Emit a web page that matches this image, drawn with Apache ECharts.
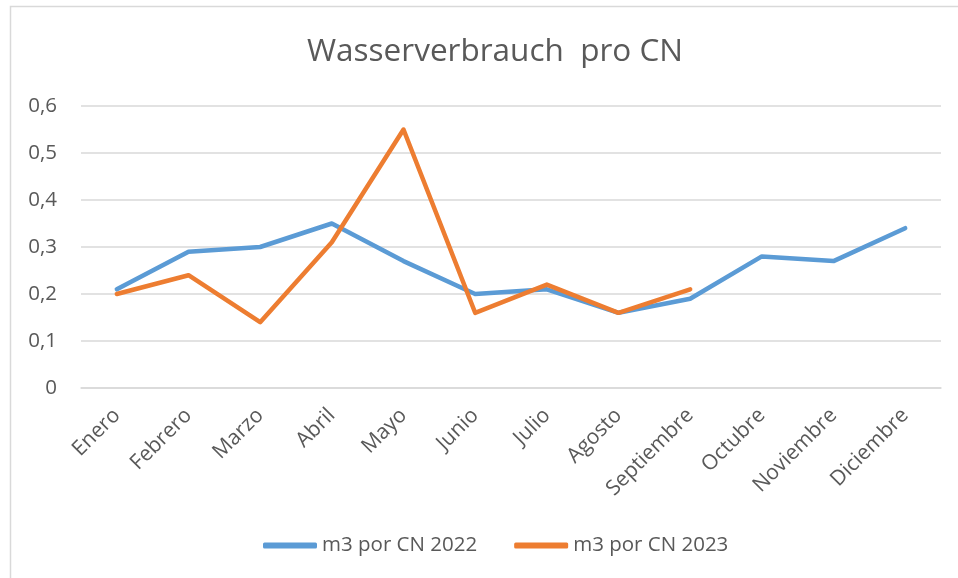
<!DOCTYPE html>
<html>
<head>
<meta charset="utf-8">
<script src="https://cdn.jsdelivr.net/npm/echarts@6/dist/echarts.min.js"></script>
<style>
html,body{margin:0;padding:0;background:#fff;}
#c{width:958px;height:578px;}
</style>
</head>
<body>
<div id="c"></div>
<script>
const categories = ['Enero','Febrero','Marzo','Abril','Mayo','Junio','Julio','Agosto','Septiembre','Octubre','Noviembre','Diciembre'];
const series2022 = [0.21,0.29,0.30,0.35,0.27,0.20,0.21,0.16,0.19,0.28,0.27,0.34];
const series2023 = [0.20,0.24,0.14,0.31,0.55,0.16,0.22,0.16,0.21];
const seriesNames = ['m3 por CN 2022','m3 por CN 2023'];
const titleText = 'Wasserverbrauch  pro CN';

const FONT = 'Open Sans';
const chart = echarts.init(document.getElementById('c'));
chart.setOption({
  animation:false,
  backgroundColor:'#fff',
  graphic:[{type:'rect',shape:{x:10.5,y:6.5,width:1000,height:1000},style:{fill:'none',stroke:'#d9d9d9',lineWidth:1.5},silent:true}],
  title:{text:titleText,left:302,top:31,textStyle:{fontFamily:FONT,fontSize:31.5,fontWeight:'normal',color:'#595959'}},
  legend:{bottom:17,left:258,itemWidth:54,itemHeight:6,itemGap:37,icon:'roundRect',
    textStyle:{fontFamily:FONT,fontSize:20.5,color:'#595959'},data:seriesNames},
  grid:{left:81,right:17,top:106,bottom:190},
  xAxis:{type:'category',data:categories,boundaryGap:true,
    axisLine:{lineStyle:{color:'#d9d9d9',width:1.5}},axisTick:{show:false},
    axisLabel:{rotate:45,fontFamily:FONT,fontSize:21,color:'#595959',margin:24,interval:0}},
  yAxis:{type:'value',min:0,max:0.6,interval:0.1,
    axisLine:{show:false},axisTick:{show:false},
    splitLine:{lineStyle:{color:'#d9d9d9',width:1.5}},
    axisLabel:{fontFamily:FONT,fontSize:20.5,color:'#595959',margin:24,
      formatter:v=>v===0?'0':v.toFixed(1).replace('.',',')}},
  series:[
    {name:seriesNames[0],type:'line',data:series2022,showSymbol:false,symbol:'none',
      lineStyle:{color:'#5b9bd5',width:4.5,cap:'round',join:'round'},itemStyle:{color:'#5b9bd5'}},
    {name:seriesNames[1],type:'line',data:series2023,showSymbol:false,symbol:'none',
      lineStyle:{color:'#ed7d31',width:4.5,cap:'round',join:'round'},itemStyle:{color:'#ed7d31'}}
  ]
});
</script>
</body>
</html>
